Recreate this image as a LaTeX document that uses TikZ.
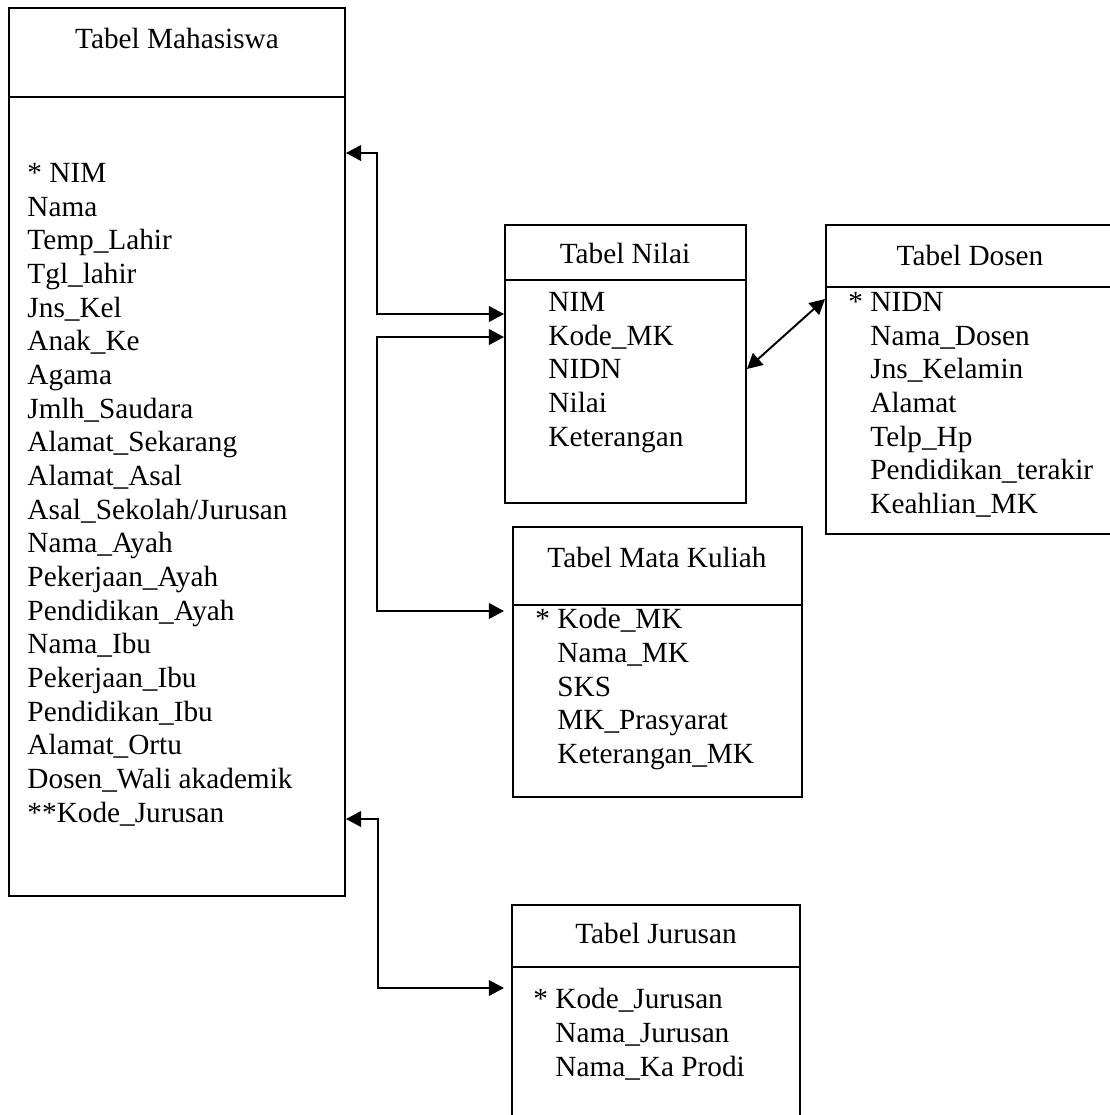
\documentclass[tikz,border=0pt]{standalone}
\usepackage{fontspec}
\setmainfont{Liberation Serif}
\usepackage{tikz}
\usetikzlibrary{positioning, fit}
\usetikzlibrary{arrows.meta}

\tikzset{
	tabel/.style={draw, inner sep=0pt, line width=0.8pt},
	judul/.style={inner sep=0pt, font=\fontsize{12}{13.8}\selectfont},
	isi/.style={inner sep=0pt, anchor=north west, align=left, font=\fontsize{12}{13.8}\selectfont},
	relasi/.style={line width=0.8pt, {Triangle[length=6.2pt,width=6.4pt]}-{Triangle[length=6.2pt,width=6.4pt]}},
}

\begin{document}
\begin{tikzpicture}[x=0.41pt, y=-0.41pt]
	\useasboundingbox (0,0) rectangle (1110,1115);
	\node[tabel, fit={(9,8) (345,896)}] (mhs) {};
	\node[tabel, fit={(505,225) (746,503)}] (nilai) {};
	\node[tabel, fit={(826,225) (1116,534)}] (dosen) {};
	\node[tabel, fit={(513,527) (802,797)}] (mk) {};
	\node[tabel, fit={(512,905) (800,1122)}] (jur) {};
	\draw[line width=0.8pt] (mhs.west |- 0,97) -- (mhs.east |- 0,97);
	\draw[line width=0.8pt] (nilai.west |- 0,280) -- (nilai.east |- 0,280);
	\draw[line width=0.8pt] (dosen.west |- 0,287) -- (dosen.east |- 0,287);
	\draw[line width=0.8pt] (mk.west |- 0,605) -- (mk.east |- 0,605);
	\draw[line width=0.8pt] (jur.west |- 0,967) -- (jur.east |- 0,967);

	\node[judul] (mhsJudul) at (177,38) {Tabel Mahasiswa};
	\node[judul] (nilaiJudul) at (625,253) {Tabel Nilai};
	\node[judul] (dosenJudul) at (970,255) {Tabel Dosen};
	\node[judul] (mkJudul) at (657,557) {Tabel Mata Kuliah};
	\node[judul] (jurJudul) at (656,933) {Tabel Jurusan};

	\node[isi] (mhsIsi) at (27,163) {* NIM\\Nama\\Temp\_Lahir\\Tgl\_lahir\\Jns\_Kel\\Anak\_Ke\\Agama\\Jmlh\_Saudara\\Alamat\_Sekarang\\Alamat\_Asal\\Asal\_Sekolah/Jurusan\\Nama\_Ayah\\Pekerjaan\_Ayah\\Pendidikan\_Ayah\\Nama\_Ibu\\Pekerjaan\_Ibu\\Pendidikan\_Ibu\\Alamat\_Ortu\\Dosen\_Wali akademik\\**Kode\_Jurusan};
	\node[isi] (nilaiIsi) at (548,292) {NIM\\Kode\_MK\\NIDN\\Nilai\\Keterangan};
	\node[isi] (dosenIsi) at (848,292) {* NIDN\\\hphantom{*\ }Nama\_Dosen\\\hphantom{*\ }Jns\_Kelamin\\\hphantom{*\ }Alamat\\\hphantom{*\ }Telp\_Hp\\\hphantom{*\ }Pendidikan\_terakir\\\hphantom{*\ }Keahlian\_MK};
	\node[isi] (mkIsi) at (535,608) {* Kode\_MK\\\hphantom{*\ }Nama\_MK\\\hphantom{*\ }SKS\\\hphantom{*\ }MK\_Prasyarat\\\hphantom{*\ }Keterangan\_MK};
	\node[isi] (jurIsi) at (533,988) {* Kode\_Jurusan\\\hphantom{*\ }Nama\_Jurusan\\\hphantom{*\ }Nama\_Ka Prodi};

	\draw[relasi] (mhs.east |- 0,153) -| (377,314) -- (nilai.west |- 0,314);
	\draw[relasi, shorten >=3.3pt] (nilai.west |- 0,337) -| (377,611) -- (mk.west |- 0,611);
	\draw[relasi, shorten >=2.9pt] (mhs.east |- 0,819) -| (378,988) -- (jur.west |- 0,988);
	\draw[relasi] (nilai.east |- 0,369) -- (dosen.west |- 0,299);
\end{tikzpicture}
\end{document}
